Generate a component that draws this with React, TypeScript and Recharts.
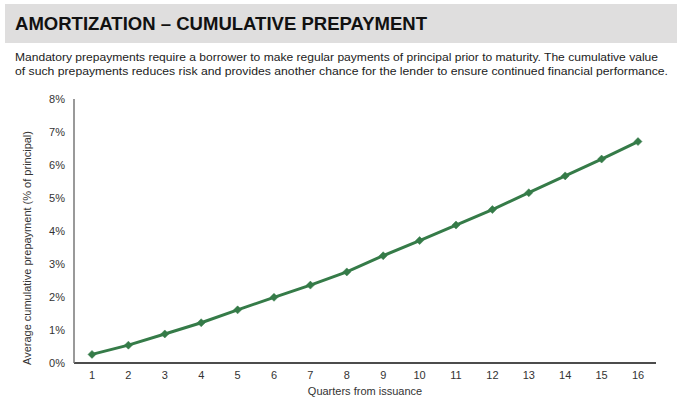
import { CartesianGrid, Line, LineChart, XAxis, YAxis } from "recharts";

const quarters = [1, 2, 3, 4, 5, 6, 7, 8, 9, 10, 11, 12, 13, 14, 15, 16];
const prepaymentPct = [
  0.26, 0.54, 0.88, 1.22, 1.61, 1.99, 2.36, 2.76, 3.25, 3.71, 4.18, 4.65, 5.16,
  5.67, 6.18, 6.71,
];
const yTicks = [0, 1, 2, 3, 4, 5, 6, 7, 8];

const TITLE = "AMORTIZATION – CUMULATIVE PREPAYMENT";
const DESC_LINES = [
  "Mandatory prepayments require a borrower to make regular payments of principal prior to maturity. The cumulative value",
  "of such prepayments reduces risk and provides another chance for the lender to ensure continued financial performance.",
];
const Y_LABEL = "Average cumulative prepayment (% of principal)";
const X_LABEL = "Quarters from issuance";

const GREEN = "#357b48";
const FONT = "'Liberation Sans', Arial, sans-serif";

const data = quarters.map((q, i) => ({ q, value: prepaymentPct[i] }));

function Diamond(props: any) {
  const { cx, cy } = props;
  if (cx == null || cy == null) return null;
  const r = 4;
  return (
    <polygon
      points={`${cx},${cy - r} ${cx + r},${cy} ${cx},${cy + r} ${cx - r},${cy}`}
      fill={GREEN}
      stroke={GREEN}
      strokeWidth={0.5}
    />
  );
}

export default function App() {
  return (
    <div
      style={{
        position: "absolute",
        left: 0,
        top: 0,
        width: 684,
        height: 414,
        background: "#fff",
        fontFamily: FONT,
      }}
    >
      <div
        style={{
          position: "absolute",
          left: 5,
          top: 4,
          width: 672,
          height: 39,
          background: "#dfdede",
        }}
      />
      <svg
        width={684}
        height={90}
        style={{ position: "absolute", left: 0, top: 0 }}
      >
        <text
          x={15}
          y={30}
          fontFamily="'Liberation Sans Narrow', 'Liberation Sans', Arial, sans-serif"
          fontWeight="bold"
          fontSize={19}
          fill="#111"
          textLength={412}
          lengthAdjust="spacingAndGlyphs"
        >
          {TITLE}
        </text>
        {DESC_LINES.map((line, i) => (
          <text
            key={i}
            x={15}
            y={61 + i * 14}
            fontFamily={FONT}
            fontSize={11.5}
            fill="#222"
            textLength={i === 0 ? 643 : 653}
            lengthAdjust="spacingAndGlyphs"
          >
            {line}
          </text>
        ))}
      </svg>
      <div style={{ position: "absolute", left: 0, top: 0 }}>
        <LineChart
          width={684}
          height={414}
          data={data}
          margin={{ top: 99, right: 28, bottom: 21, left: 24 }}
        >
          <CartesianGrid horizontal={false} vertical={false} />
          <XAxis
            dataKey="q"
            type="category"
            padding={{ left: 18, right: 18 }}
            tickLine={false}
            axisLine={{ stroke: "#111", strokeWidth: 1.5 }}
            tick={{ fill: "#333", fontSize: 11, fontFamily: FONT }}
            height={30}
            label={(props: any) => {
              const vb = props.viewBox;
              return (
                <text
                  x={vb.x + vb.width / 2}
                  y={395}
                  textAnchor="middle"
                  fontSize={11}
                  fontFamily={FONT}
                  fill="#333"
                >
                  {X_LABEL}
                </text>
              );
            }}
          />
          <YAxis
            domain={[0, 8]}
            ticks={yTicks}
            tickFormatter={(v: number) => `${v}%`}
            tickLine={false}
            tickMargin={3}
            axisLine={{ stroke: "#777", strokeWidth: 1.5 }}
            tick={{ fill: "#333", fontSize: 11, fontFamily: FONT }}
            width={50}
            label={() => (
              <text
                x={31}
                y={248}
                transform="rotate(-90 31 248)"
                textAnchor="middle"
                fontSize={11}
                fontFamily={FONT}
                fill="#333"
              >
                {Y_LABEL}
              </text>
            )}
          />
          <Line
            dataKey="value"
            stroke={GREEN}
            strokeWidth={3}
            dot={<Diamond />}
            activeDot={false}
            isAnimationActive={false}
          />
        </LineChart>
      </div>
    </div>
  );
}
